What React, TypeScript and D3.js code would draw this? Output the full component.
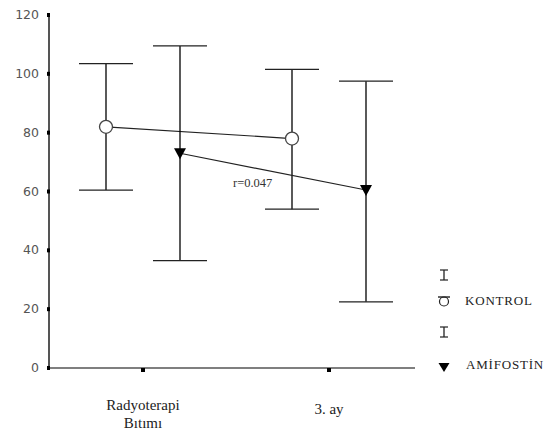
import React, { useEffect, useRef } from 'react';
import * as d3 from 'd3';

// categories and series (means with error bar limits)
const categories = ['Radyoterapi\nBıtımı', '3. ay'];
const kontrolMean = [82, 78];
const kontrolHigh = [103.5, 101.5];
const kontrolLow = [60.5, 54];
const amifostinMean = [73, 60.5];
const amifostinHigh = [109.5, 97.5];
const amifostinLow = [36.5, 22.5];
const yTicks = [0, 20, 40, 60, 80, 100, 120];
const pValueLabel = 'r=0.047';

const App = () => {
  const ref = useRef<SVGSVGElement | null>(null);

  useEffect(() => {
    const svg = d3.select(ref.current);
    svg.selectAll('*').remove();

    const y = d3.scaleLinear().domain([0, 120]).range([368, 15]);
    const x = d3.scalePoint<string>().domain(categories).range([143, 329]);
    const axisLeftX = 49;
    const axisRightX = 415;
    const offset = 37;
    const capHalf = 27;

    // y axis
    svg.append('line')
      .attr('x1', axisLeftX).attr('x2', axisLeftX)
      .attr('y1', y(120)).attr('y2', y(0))
      .attr('stroke', '#555').attr('stroke-width', 2);
    svg.append('g').selectAll('rect')
      .data(yTicks).enter().append('rect')
      .attr('x', axisLeftX - 2).attr('y', d => y(d) - 2)
      .attr('width', 3).attr('height', 4).attr('fill', '#000');
    svg.append('g').selectAll('text')
      .data(yTicks).enter().append('text')
      .attr('x', axisLeftX - 10).attr('y', d => y(d) + 4)
      .attr('text-anchor', 'end')
      .attr('font-family', 'DejaVu Sans, sans-serif')
      .attr('font-size', 12.5).attr('fill', '#555')
      .text(d => d);

    // x axis
    svg.append('line')
      .attr('x1', axisLeftX).attr('x2', axisRightX)
      .attr('y1', y(0)).attr('y2', y(0))
      .attr('stroke', '#000').attr('stroke-width', 1.2);
    svg.append('g').selectAll('rect')
      .data(categories).enter().append('rect')
      .attr('x', d => (x(d) as number) - 2).attr('y', y(0))
      .attr('width', 4).attr('height', 4).attr('fill', '#000');
    categories.forEach(c => {
      const lines = c.split('\n');
      const t = svg.append('text')
        .attr('text-anchor', 'middle')
        .attr('font-family', 'Liberation Serif, serif')
        .attr('font-size', 15).attr('fill', '#222');
      lines.forEach((l, i) => {
        t.append('tspan')
          .attr('x', x(c) as number)
          .attr('y', (lines.length === 1 ? 414 : 410) + i * 18)
          .text(l);
      });
    });

    const drawSeries = (
      mean: number[], high: number[], low: number[], dx: number, marker: 'circle' | 'triangle'
    ) => {
      const px = categories.map(c => (x(c) as number) + dx);
      const g = svg.append('g');
      // error bars
      mean.forEach((_, i) => {
        g.append('line').attr('x1', px[i]).attr('x2', px[i])
          .attr('y1', y(high[i])).attr('y2', y(low[i]))
          .attr('stroke', '#000').attr('stroke-width', 1.3);
        [high[i], low[i]].forEach(v => {
          g.append('line').attr('x1', px[i] - capHalf).attr('x2', px[i] + capHalf)
            .attr('y1', y(v)).attr('y2', y(v))
            .attr('stroke', '#222').attr('stroke-width', 1.3);
        });
      });
      // connecting line
      const line = d3.line<number>().x((_, i) => px[i]).y(d => y(d));
      g.append('path').datum(mean).attr('d', line)
        .attr('fill', 'none').attr('stroke', '#222').attr('stroke-width', 1.2);
      // markers
      mean.forEach((v, i) => {
        if (marker === 'circle') {
          g.append('circle').attr('cx', px[i]).attr('cy', y(v)).attr('r', 6.5)
            .attr('fill', '#fff').attr('stroke', '#444').attr('stroke-width', 1.3);
        } else {
          g.append('path')
            .attr('d', `M${px[i] - 6},${y(v) - 5}L${px[i] + 6},${y(v) - 5}L${px[i]},${y(v) + 6}Z`)
            .attr('fill', '#000');
        }
      });
    };

    drawSeries(kontrolMean, kontrolHigh, kontrolLow, -offset, 'circle');
    drawSeries(amifostinMean, amifostinHigh, amifostinLow, offset, 'triangle');

    svg.append('text')
      .attr('x', 233).attr('y', 187)
      .attr('font-family', 'Liberation Serif, serif')
      .attr('font-size', 12.5).attr('fill', '#333')
      .text(pValueLabel);

    // legend
    const lg = svg.append('g').attr('font-family', 'Liberation Serif, serif').attr('fill', '#222');
    const ibeam = (cx: number, cy: number) => {
      lg.append('line').attr('x1', cx).attr('x2', cx).attr('y1', cy - 5).attr('y2', cy + 5)
        .attr('stroke', '#222').attr('stroke-width', 1.3);
      lg.append('line').attr('x1', cx - 4).attr('x2', cx + 4).attr('y1', cy - 5).attr('y2', cy - 5)
        .attr('stroke', '#222').attr('stroke-width', 1.2);
      lg.append('line').attr('x1', cx - 4).attr('x2', cx + 4).attr('y1', cy + 5).attr('y2', cy + 5)
        .attr('stroke', '#222').attr('stroke-width', 1.2);
    };
    ibeam(444, 275);
    lg.append('circle').attr('cx', 444).attr('cy', 301.5).attr('r', 4.5)
      .attr('fill', 'none').attr('stroke', '#222').attr('stroke-width', 1.2);
    lg.append('line').attr('x1', 438).attr('x2', 450).attr('y1', 297).attr('y2', 297)
      .attr('stroke', '#222').attr('stroke-width', 1.4);
    lg.append('text').attr('x', 465).attr('y', 305).attr('font-size', 13)
      .attr('letter-spacing', 0.8).text('KONTROL');
    ibeam(444, 332);
    lg.append('path').attr('d', 'M438.5,363L449.5,363L444,372Z').attr('fill', '#000');
    lg.append('text').attr('x', 466).attr('y', 369).attr('font-size', 13)
      .attr('letter-spacing', 0.8).text('AMİFOSTİN');
  }, []);

  return (
    <svg ref={ref} width={554} height={439}
      style={{ position: 'absolute', left: 0, top: 0, background: '#fff' }} />
  );
};

export default App;
